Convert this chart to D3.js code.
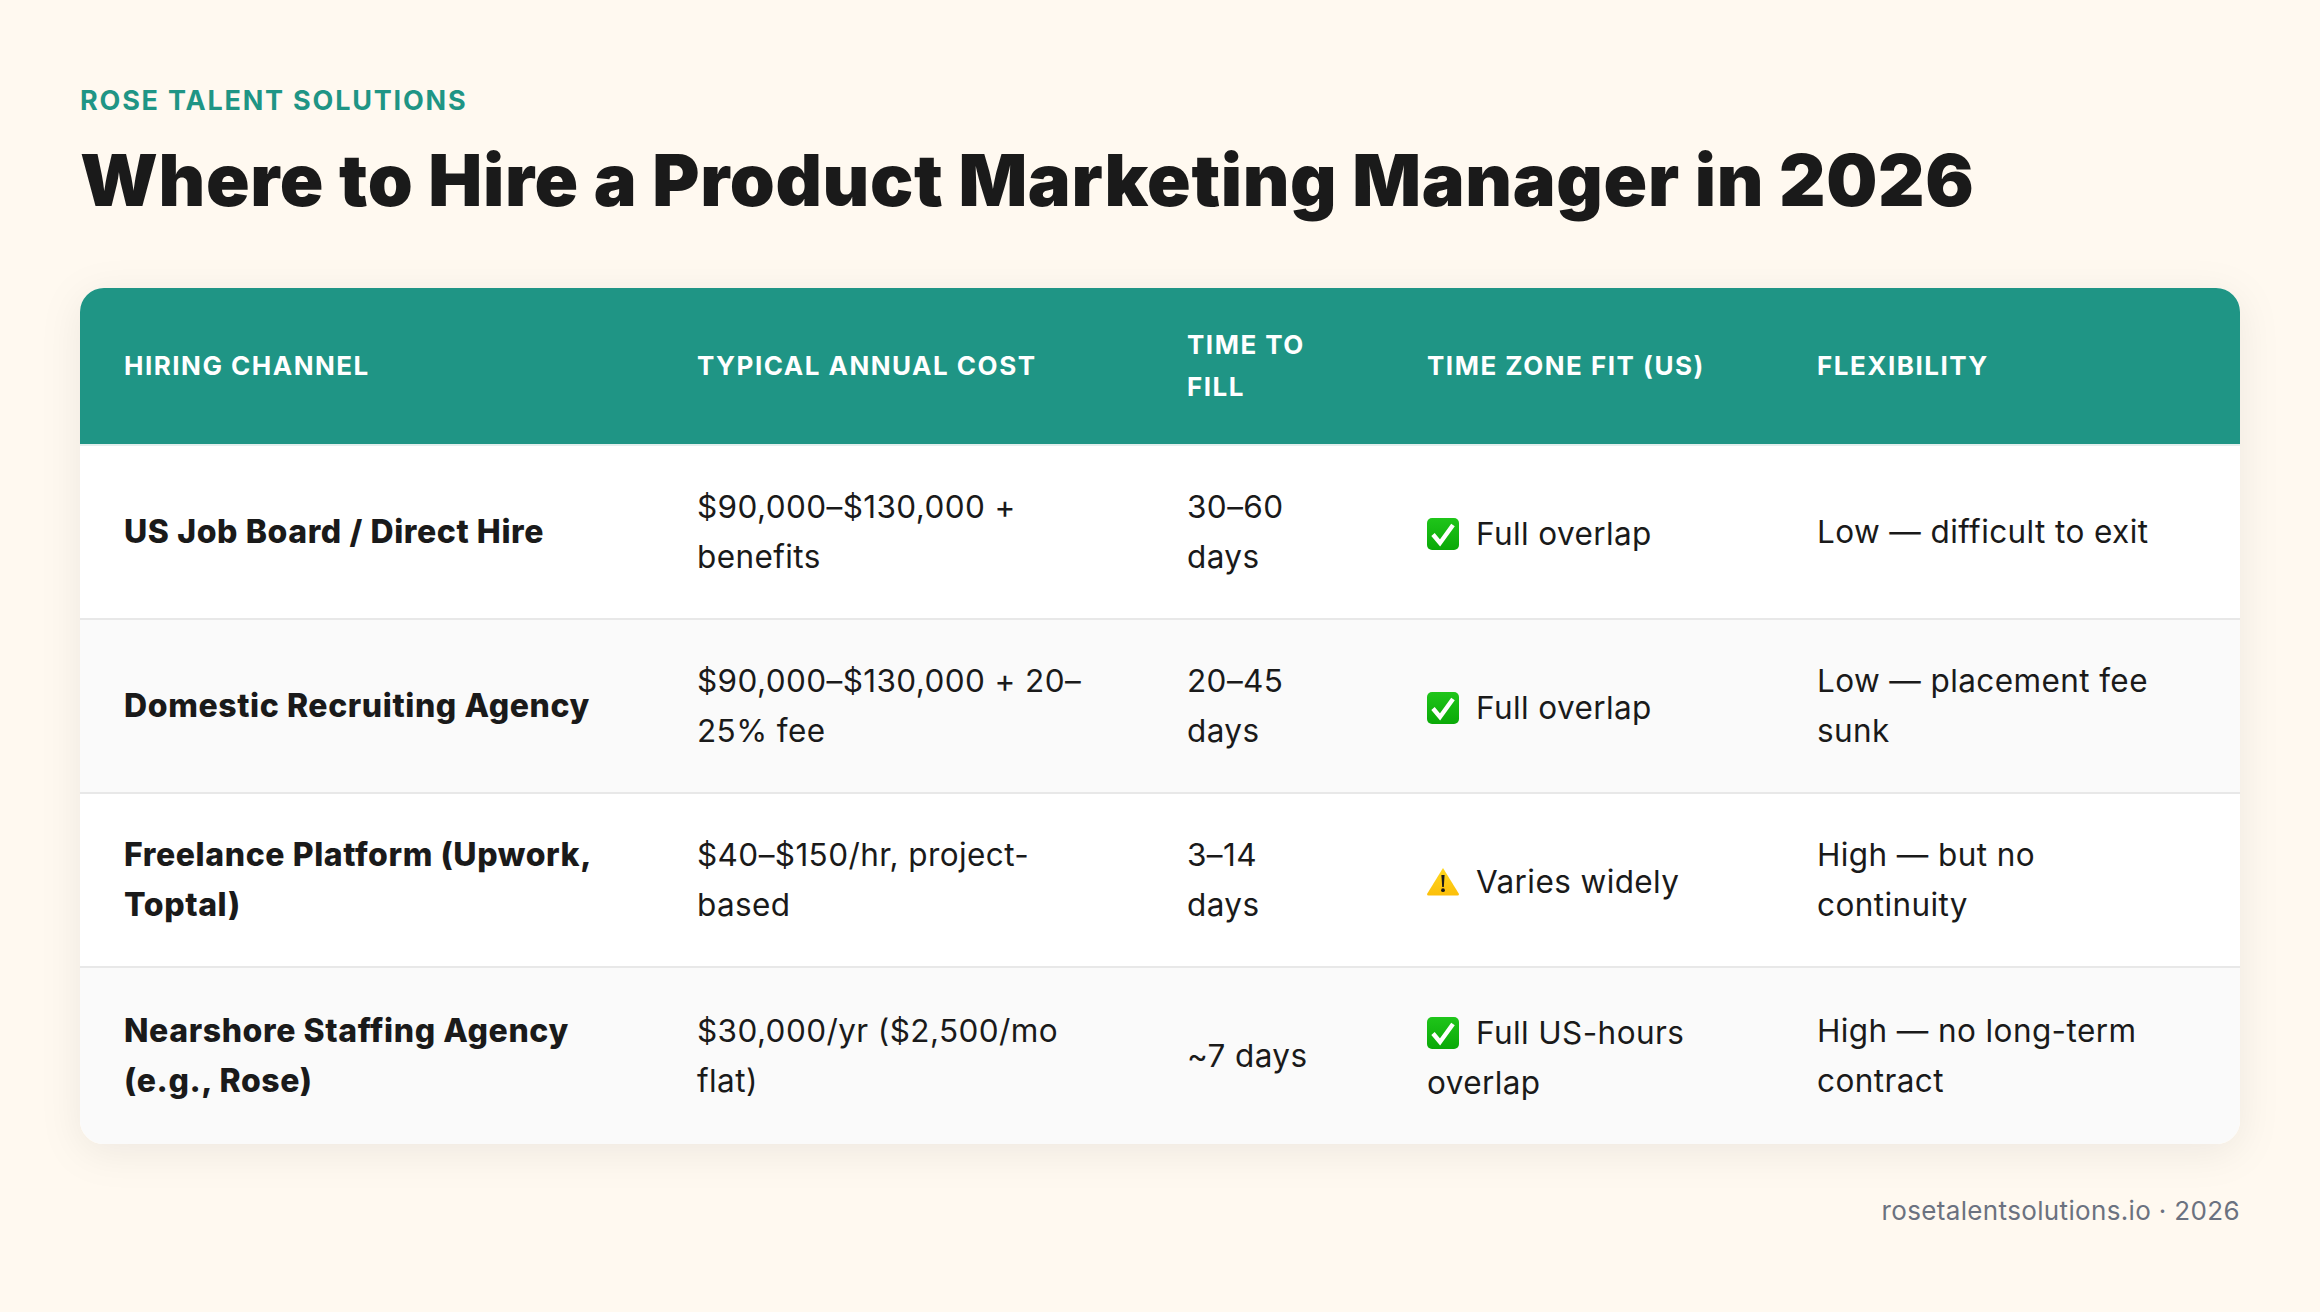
<!DOCTYPE html>
<html>
<head>
<meta charset="utf-8">
<script src="https://cdnjs.cloudflare.com/ajax/libs/d3/7.8.5/d3.min.js"></script>
<style>
  html, body { margin: 0; padding: 0; background: #fff9f0; }
  svg { display: block; font-family: Inter, "Open Sans", sans-serif; }
</style>
</head>
<body>
<div id="chart"></div>
<script>
// table content, "|" marks the line breaks seen in the picture
var eyebrow = "ROSE TALENT SOLUTIONS";
var title = "Where to Hire a Product Marketing Manager in 2026";
var footer = "rosetalentsolutions.io · 2026";

var columns = ["HIRING CHANNEL", "TYPICAL ANNUAL COST", "TIME TO|FILL", "TIME ZONE FIT (US)", "FLEXIBILITY"];
var channels = ["US Job Board / Direct Hire", "Domestic Recruiting Agency", "Freelance Platform (Upwork,|Toptal)", "Nearshore Staffing Agency|(e.g., Rose)"];
var costs = ["$90,000–$130,000 +|benefits", "$90,000–$130,000 + 20–|25% fee", "$40–$150/hr, project-|based", "$30,000/yr ($2,500/mo|flat)"];
var fillTimes = ["30–60|days", "20–45|days", "3–14|days", "~7 days"];
var zoneIcons = ["check", "check", "warn", "check"];
var zoneFits = ["Full overlap", "Full overlap", "Varies widely", "Full US-hours|overlap"];
var flexibility = ["Low — difficult to exit", "Low — placement fee|sunk", "High — but no|continuity", "High — no long-term|contract"];

var width = 2320, height = 1312;
var cardLeft = 80, cardRight = 2240, cardTop = 288, cardBottom = 1144, radius = 24;
var headerBottom = 444, ruleH = 2, padX = 44, lineH = 50;

var x = d3.scaleOrdinal().domain(d3.range(5)).range([80, 653, 1143, 1383, 1773]);
var rowTop = d3.scaleOrdinal().domain(d3.range(4)).range([446, 620, 794, 968]);
var rowEnd = d3.scaleOrdinal().domain(d3.range(4)).range([620, 794, 968, 1144]);

var teal = "#1f9585", ink = "#1a1a1a";

var svg = d3.select("#chart").append("svg")
    .attr("width", width)
    .attr("height", height);

svg.append("rect").attr("width", width).attr("height", height).attr("fill", "#fff9f0");

var defs = svg.append("defs");
var shadow = defs.append("filter").attr("id", "shadow")
    .attr("x", "-10%").attr("y", "-15%").attr("width", "120%").attr("height", "130%");
shadow.append("feDropShadow")
    .attr("dx", 0).attr("dy", 8).attr("stdDeviation", 20)
    .attr("flood-color", "#000").attr("flood-opacity", 0.07);
defs.append("clipPath").attr("id", "card").append("rect")
    .attr("x", cardLeft).attr("y", cardTop)
    .attr("width", cardRight - cardLeft).attr("height", cardBottom - cardTop)
    .attr("rx", radius);

var green = defs.append("linearGradient").attr("id", "green")
    .attr("x1", 0).attr("y1", 0).attr("x2", 0).attr("y2", 1);
green.append("stop").attr("offset", 0).attr("stop-color", "#1fc51a");
green.append("stop").attr("offset", 1).attr("stop-color", "#0aa908");
var amber = defs.append("linearGradient").attr("id", "amber")
    .attr("x1", 0).attr("y1", 0).attr("x2", 0).attr("y2", 1);
amber.append("stop").attr("offset", 0).attr("stop-color", "#ffd81f");
amber.append("stop").attr("offset", 1).attr("stop-color", "#fcbf0a");

// title block
svg.append("text").text(eyebrow)
    .attr("x", cardLeft).attr("y", 110)
    .attr("fill", teal)
    .style("font-size", "27px").style("font-weight", 700).style("letter-spacing", "1.8px");

svg.append("text").text(title)
    .attr("x", cardLeft).attr("y", 206)
    .attr("fill", ink)
    .style("font-size", "72px").style("font-weight", 900).style("letter-spacing", "0.63px");

// card
svg.append("rect")
    .attr("x", cardLeft).attr("y", cardTop)
    .attr("width", cardRight - cardLeft).attr("height", cardBottom - cardTop)
    .attr("rx", radius).attr("fill", "#fff")
    .attr("filter", "url(#shadow)");

var card = svg.append("g").attr("clip-path", "url(#card)");

card.append("rect")
    .attr("x", cardLeft).attr("y", cardTop)
    .attr("width", cardRight - cardLeft).attr("height", headerBottom - cardTop)
    .attr("fill", teal);
card.append("rect")
    .attr("x", cardLeft).attr("y", headerBottom)
    .attr("width", cardRight - cardLeft).attr("height", ruleH)
    .attr("fill", "#e3efed");

var rows = card.selectAll("g.row").data(channels).join("g").attr("class", "row");
rows.append("rect")
    .attr("x", cardLeft)
    .attr("y", function(d, i) { return rowTop(i); })
    .attr("width", cardRight - cardLeft)
    .attr("height", function(d, i) { return rowEnd(i) - rowTop(i); })
    .attr("fill", function(d, i) { return i % 2 ? "#fafafa" : "#fff"; });
rows.filter(function(d, i) { return i < 3; }).append("rect")
    .attr("x", cardLeft)
    .attr("y", function(d, i) { return rowEnd(i) - ruleH; })
    .attr("width", cardRight - cardLeft)
    .attr("height", ruleH)
    .attr("fill", "#e8e8e8");

// header labels
var headerMid = (cardTop + headerBottom) / 2;
svg.selectAll("text.head").data(columns).join("text")
    .attr("class", "head")
    .attr("fill", "#fff")
    .style("font-size", "26px").style("font-weight", 700).style("letter-spacing", "1.5px")
    .each(function(d, i) {
      var lines = d.split("|");
      var top = headerMid - (lines.length - 1) * 21 + 9;
      d3.select(this).selectAll("tspan").data(lines).join("tspan")
          .attr("x", x(i) + padX)
          .attr("y", function(l, k) { return top + k * 42; })
          .text(function(l) { return l; });
    });

// body cells
function rowMid(i) {
  return (rowTop(i) + rowEnd(i) - (i < 3 ? ruleH : 0)) / 2;
}

function drawColumn(values, col, cls) {
  svg.selectAll("text." + cls).data(values).join("text")
      .attr("class", cls)
      .attr("fill", ink)
      .each(function(d, i) {
        var lines = d.split("|");
        var top = rowMid(i) - (lines.length - 1) * lineH / 2 + 11;
        d3.select(this).selectAll("tspan").data(lines).join("tspan")
            .attr("x", x(col) + padX)
            .attr("y", function(l, k) { return top + k * lineH; })
            .text(function(l) { return l; });
      });
}

drawColumn(channels, 0, "channel");
drawColumn(costs, 1, "cost");
drawColumn(fillTimes, 2, "fill");
drawColumn(flexibility, 4, "flex");

svg.selectAll("text.channel").style("font-size", "32px").style("font-weight", 800).style("letter-spacing", "0.6px");
svg.selectAll("text.cost, text.fill, text.flex").style("font-size", "31.5px").style("font-weight", 400).style("letter-spacing", "0.4px");

// time zone column has an icon in front of the first line
var iconSize = 32, iconGap = 17;
var zoneX = x(3) + padX;

svg.selectAll("text.zone").data(zoneFits).join("text")
    .attr("class", "zone")
    .attr("fill", ink)
    .style("font-size", "31.5px").style("font-weight", 400).style("letter-spacing", "0.4px")
    .each(function(d, i) {
      var lines = d.split("|");
      var top = rowMid(i) - (lines.length - 1) * lineH / 2 + 13;
      d3.select(this).selectAll("tspan").data(lines).join("tspan")
          .attr("x", function(l, k) { return k === 0 ? zoneX + iconSize + iconGap : zoneX; })
          .attr("y", function(l, k) { return top + k * lineH; })
          .text(function(l) { return l; });
    });

var icons = svg.selectAll("g.icon").data(zoneIcons).join("g")
    .attr("class", "icon")
    .attr("transform", function(d, i) {
      var lines = zoneFits[i].split("|").length;
      var base = rowMid(i) - (lines - 1) * lineH / 2 + 13;
      return "translate(" + zoneX + "," + (base - 27) + ")";
    });

icons.filter(function(d) { return d === "check"; }).each(function() {
  var g = d3.select(this);
  g.append("rect").attr("width", iconSize).attr("height", iconSize).attr("rx", 5).attr("fill", "url(#green)");
  g.append("path").attr("d", "M6 16.5 L13 25 L26 7")
      .attr("fill", "none").attr("stroke", "#fff").attr("stroke-width", 4.4);
});

icons.filter(function(d) { return d === "warn"; }).each(function() {
  var g = d3.select(this);
  g.append("path").attr("d", "M16 2 L32 28 Q32 29.5 30.5 29.5 L1.5 29.5 Q0 29.5 0 28 Z")
      .attr("fill", "url(#amber)");
  g.append("path").attr("d", "M14.4 9 L17.6 9 L16.8 21 L15.2 21 Z").attr("fill", "#1a1a1a");
  g.append("circle").attr("cx", 16).attr("cy", 24.2).attr("r", 1.9).attr("fill", "#1a1a1a");
});

// footer
svg.append("text").text(footer)
    .attr("x", cardRight).attr("y", 1220)
    .attr("text-anchor", "end")
    .attr("fill", "#6b7280")
    .style("font-size", "26px").style("font-weight", 400).style("letter-spacing", "0.35px");
</script>
</body>
</html>
